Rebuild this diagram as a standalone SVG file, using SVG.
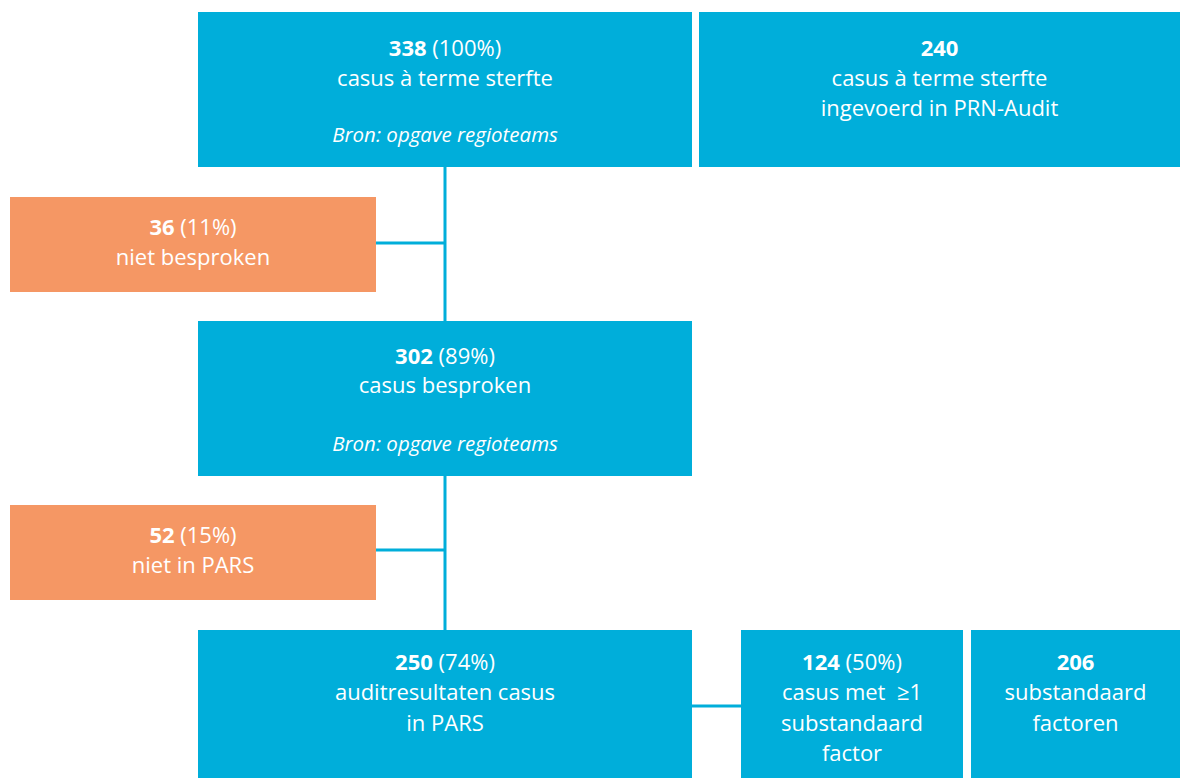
<svg xmlns="http://www.w3.org/2000/svg" width="1180" height="778" viewBox="0 0 1180 778">
<style>
.b{fill:#00AEDA}
.o{fill:#F59764}
text{font-family:"Open Sans",Lato,sans-serif;font-size:22px;fill:#fff;text-anchor:middle}
.bd{font-weight:bold}
.it{font-style:italic;font-size:20.5px}
.c{stroke:#00AEDA;stroke-width:3;fill:none}
</style>
<rect width="1180" height="778" fill="#fff"/>
<g id="connectors">
<path class="c" d="M445 167V630M376 243H445M376 550H445M692 706H741"/>
</g>
<g id="n1"><rect class="b" x="198" y="12" width="494" height="155"/>
<text x="445" y="56"><tspan class="bd">338</tspan> (100%)</text>
<text x="445" y="86">casus à terme sterfte</text>
<text x="445" y="142" class="it">Bron: opgave regioteams</text></g>
<g id="n2"><rect class="b" x="699" y="12" width="481" height="155"/>
<text x="939.5" y="56" class="bd">240</text>
<text x="939.5" y="86">casus à terme sterfte</text>
<text x="939.5" y="116">ingevoerd in PRN-Audit</text></g>
<g id="n3"><rect class="o" x="10" y="197" width="366" height="95"/>
<text x="193" y="235"><tspan class="bd">36</tspan> (11%)</text>
<text x="193" y="265">niet besproken</text></g>
<g id="n4"><rect class="b" x="198" y="321" width="494" height="155"/>
<text x="445" y="364"><tspan class="bd">302</tspan> (89%)</text>
<text x="445" y="393">casus besproken</text>
<text x="445" y="451" class="it">Bron: opgave regioteams</text></g>
<g id="n5"><rect class="o" x="10" y="505" width="366" height="95"/>
<text x="193" y="543"><tspan class="bd">52</tspan> (15%)</text>
<text x="193" y="573">niet in PARS</text></g>
<g id="n6"><rect class="b" x="198" y="630" width="494" height="148"/>
<text x="445" y="670"><tspan class="bd">250</tspan> (74%)</text>
<text x="445" y="700">auditresultaten casus</text>
<text x="445" y="731">in PARS</text></g>
<g id="n7"><rect class="b" x="741" y="630" width="222" height="148"/>
<text x="852" y="670"><tspan class="bd">124</tspan> (50%)</text>
<text x="852" y="700" xml:space="preserve">casus met  ≥1</text>
<text x="852" y="731">substandaard</text>
<text x="852" y="761">factor</text></g>
<g id="n8"><rect class="b" x="971" y="630" width="209" height="148"/>
<text x="1075.5" y="670" class="bd">206</text>
<text x="1075.5" y="700">substandaard</text>
<text x="1075.5" y="731">factoren</text></g>
</svg>
